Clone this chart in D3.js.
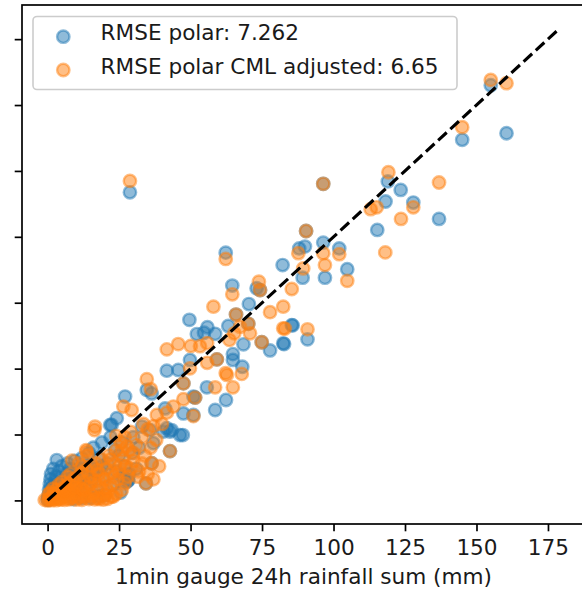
<!DOCTYPE html>
<html>
<head>
<meta charset="utf-8">
<script src="https://cdn.jsdelivr.net/npm/d3@7"></script>
<style>
  html, body { margin: 0; padding: 0; background: #fff; }
  svg { display: block; }
  text { font-family: "DejaVu Sans", sans-serif; }
</style>
</head>
<body>
<svg id="chart" width="582" height="592"></svg>
<script>
// ---- data ----
const seriesNames = ["RMSE polar: 7.262", "RMSE polar CML adjusted: 6.65"];
const xTicks = [0, 25, 50, 75, 100, 125, 150, 175];
const yTicks = [0, 25, 50, 75, 100, 125, 150, 175];
const oneToOne = [0, 179];

// polar (blue): [gauge, radar]
const polarPoints = [
  [155,157.5],[160.5,139.3],[145,136.8],[119,121],[123.5,117.8],[136.9,106.8],[96.4,120.1],[28.8,116.9],
  [118.2,113.4],[115.3,102.6],[127.9,113],[90.4,102.2],[88,95.6],[90,96.3],[96.4,97.8],[97,84.5],
  [102,95.6],[104.8,87.7],[89.2,84.5],[82.2,89.3],[85.4,66.5],[82.4,59.6],[90.9,61.1],[62.3,94],
  [64.6,81.5],[73.1,80.5],[74.3,79.8],[70.4,74.5],[70.2,67],[65.9,70.5],[49.6,68.5],[63.2,66.2],
  [55.9,65.7],[52.2,63.1],[54.7,63.6],[58.6,63.2],[85.7,66.4],[68.5,59.2],[74.9,60],[77.8,56.9],
  [82.7,59.3],[49.8,53.3],[41.7,49.2],[45.7,49.5],[59.2,53.5],[64.8,55.5],[64.8,53.3],[68.1,50.7],
  [47.5,44.4],[62.4,38.1],[55.7,42.9],[51,39.4],[58.6,34.3],[27.1,39.4],[34.7,41.9],[36.4,40.6],
  [24.2,31.2],[41.7,27.4],[43.4,26.7],[46.3,24.8],[47.5,33],[41.1,34.9],[51.6,39],[21.9,28.6],
  [35.8,26.7],[37,21.7],[42.8,26.1],[40.5,26.1],[42.8,18.7],[36.4,14.1],[34.4,6.5],[28.3,7.7],
  [27.7,7.1],[51,32.4],[47.3,24.8],
  [0,0.5],[0.3,2],[0.5,4],[0.8,6],[1,8],[1.2,10],[1.5,3],[2,5],[2,12],[2.5,7],[3,9],[3.2,15.3],
  [3.5,4],[4,11],[4.5,6],[5,13],[5.5,8],[6,3],[6.5,10],[7,14],[7.5,5],[8,12],[8.5,2],[9,9],
  [9.5,15],[10,6],[11,12],[11.5,3],[12,16],[12.5,9],[13,5],[14,13],[14.5,18],[15,1],[15.5,8],
  [16,20],[17,11],[17.5,4],[18,16],[19,22],[19.5,9],[20,2],[21,14],[22,24],[22.4,28.6],[23,6],
  [23.5,19],[24,11],[25,17],[25.5,3],[26,22],[26.5,9],[27,13],[28,7.5],[28.5,10],[29.5,18],
  [30,24],[31,12],[32,20],[33,28],[0.2,0.2],[1,1],[2,1.5],[4,2],[6,6.5],[9,0.5],[12,1],[18,1.5],
  [0.5,1],[1.5,5],[2.5,3],[3,6],[5,4],[7,7],[8,3.5],[10,11],[12,7],[14,9],[16,12],[19,13]
];

// polar CML adjusted (orange): [gauge, radar]
const cmlPoints = [
  [155,159.5],[160.5,158.3],[145,141.6],[119.2,124.5],[136.9,120.6],[96.4,120.1],[28.8,121.2],
  [115.1,111.2],[113,110.5],[127.9,111.2],[123.6,106.8],[118.1,94.1],[90.4,102.2],[87.7,93.8],
  [96.4,93.8],[97,89.3],[102,93.4],[104.8,83.3],[89.4,88],[85.4,80.2],[82.4,73.5],[82.4,65.3],
  [90.9,64.9],[62.3,91.6],[64.6,78.2],[73.9,83],[74.3,79.8],[58,73.5],[77.8,71.4],[65.9,70.5],
  [70.2,67],[67.3,65.9],[65.3,63.4],[70.8,63.4],[83,65.2],[74.9,60],[41.7,57.3],[45.7,59.3],
  [50.1,58.6],[53.3,58.5],[55.8,59.7],[63.6,60.9],[59.2,53.5],[55.8,52.2],[62.3,48.3],[67.9,48],
  [34.7,46],[49.8,50.1],[36.1,42.2],[47.5,44.4],[64.8,42.9],[58.6,42.9],[47.5,38.4],[51.6,39],
  [44,35.6],[41.7,33.3],[26.5,35.6],[29.4,34.3],[37,28.2],[33.5,29],[51,32],[38.2,32.4],
  [16.4,26.7],[16.6,28],[42.8,18.7],[36.4,14.1],[34.4,6.5],[13.5,19.1],[8.5,15.1],[13.7,18.5],
  [27.7,20.6],[22.4,1.4],[62.7,47.6],
  [0,0],[0.5,0.3],[1,0.8],[1.5,1.2],[2,0.5],[2.5,2],[3,1],[3.5,2.8],[4,0.6],[4.5,3.5],[5,2],
  [5.5,4.8],[6,1.2],[6.5,5],[7,3],[7.5,6.5],[8,0.8],[8.5,4],[9,7.8],[9.5,2.5],[10,6],[10.5,9],
  [11,1],[11.5,4.5],[12,10.5],[12.5,7],[13,2],[13.5,11.5],[14,5],[14.5,0.5],[15,9],[15.5,13],
  [16,3],[16.5,7.5],[17,14],[17.5,1],[18,10],[18.5,5],[19,15.5],[19.5,0.3],[20,8],[20.5,12],
  [21,3.5],[21.5,17],[22,6],[22.5,10.5],[23,1.5],[23.5,14],[24,19],[24.5,8],[25,11],[25.5,22],
  [26,4],[26.5,16],[27,24],[27.5,13],[28,9],[28.5,19],[29,26],[30,15],[31,21],[32,11],[33,24],
  [34,17],[35,27],[36,20],[37,8],[38,23],[39,13],[40,29],[13,1.2],[18,0.5],[10,0.3],[6,0.2],
  [3,0.1],[20,2],[1,3],[2,4.5],[0.5,2.5],[4,6],[7,9],[11,14],[3,4],[5,7],[8,10],[14,17],
  [-1,0.2],[1.5,0.1],[4.5,0.3],[7.5,0.4],[9,1.5],[12,0.2],[15.5,1.8],[16.5,0.4],[21,0.6],[24,2.5],
  [2,2.5],[6,3.8],[9.5,5],[12.5,4],[15,6.5],[18,7.5],[20.5,5],[23,9],[25.5,13.5],[27,6.5],
  [29,12],[30,18],[31.5,9],[12,13],[17.5,11.5],[22,15.5],[26,19],[33,14],[35,10],[24,24.5]
];

const seriesColors = ["#1f77b4", "#ff7f0e"];

// ---- drawing ----
(function () {
  const svg = d3.select("#chart");
  const W = 582, H = 592;
  const pLeft = 22, pRight = 585, pTop = 5, pBottom = 524;
  const fontSize = 21.6;
  const textColor = "#1a1a1a";

  const x = d3.scaleLinear().domain([-8.95, 187.95]).range([pLeft, pRight]);
  const y = d3.scaleLinear().domain([-8.95, 187.95]).range([pBottom, pTop]);

  svg.append("rect").attr("width", W).attr("height", H).attr("fill", "#fff");

  const R = 6.2, SW = 2.4;
  const series = [polarPoints, cmlPoints];
  series.forEach((pts, i) => {
    svg.append("g")
      .selectAll("circle")
      .data(pts)
      .join("circle")
      .attr("cx", d => x(d[0]))
      .attr("cy", d => y(d[1]))
      .attr("r", R)
      .attr("fill", seriesColors[i])
      .attr("fill-opacity", 0.5)
      .attr("stroke", seriesColors[i])
      .attr("stroke-opacity", 0.5)
      .attr("stroke-width", SW);
  });

  // 1:1 dashed line
  svg.append("line")
    .attr("x1", x(oneToOne[0])).attr("y1", y(oneToOne[0]))
    .attr("x2", x(oneToOne[1])).attr("y2", y(oneToOne[1]))
    .attr("stroke", "#000")
    .attr("stroke-width", 3.1)
    .attr("stroke-dasharray", "11.6,5");

  // axes
  const xAxis = d3.axisBottom(x).tickValues(xTicks).tickSize(7.3).tickSizeOuter(0).tickPadding(8.8);
  const gx = svg.append("g").attr("transform", `translate(0,${pBottom})`).call(xAxis);
  gx.select(".domain").remove();
  gx.selectAll(".tick line").attr("stroke", "#000").attr("stroke-width", 1.7);
  gx.selectAll(".tick text").attr("fill", textColor).style("font-size", fontSize + "px")
    .style("font-family", "DejaVu Sans, sans-serif");

  const yAxis = d3.axisLeft(y).tickValues(yTicks).tickSize(7.3).tickSizeOuter(0).tickFormat("");
  const gy = svg.append("g").attr("transform", `translate(${pLeft},0)`).call(yAxis);
  gy.select(".domain").remove();
  gy.selectAll(".tick line").attr("stroke", "#000").attr("stroke-width", 1.7);

  // frame (spines)
  svg.append("rect")
    .attr("x", pLeft).attr("y", pTop)
    .attr("width", pRight - pLeft).attr("height", pBottom - pTop)
    .attr("fill", "none").attr("stroke", "#000").attr("stroke-width", 1.7);

  // x label
  svg.append("text")
    .attr("x", (pLeft + pRight) / 2)
    .attr("y", 584)
    .attr("text-anchor", "middle")
    .style("font-size", fontSize + "px")
    .attr("fill", textColor)
    .text("1min gauge 24h rainfall sum (mm)");

  // legend
  const lg = svg.append("g");
  lg.append("rect")
    .attr("x", 33).attr("y", 16.5).attr("width", 424).attr("height", 73).attr("rx", 4)
    .attr("fill", "#fff").attr("fill-opacity", 0.8)
    .attr("stroke", "#cccccc").attr("stroke-width", 1.6);
  const rows = [36.7, 70];
  seriesNames.forEach((name, i) => {
    lg.append("circle")
      .attr("cx", 63.3).attr("cy", rows[i]).attr("r", R)
      .attr("fill", seriesColors[i]).attr("fill-opacity", 0.5)
      .attr("stroke", seriesColors[i]).attr("stroke-opacity", 0.5).attr("stroke-width", SW);
    lg.append("text")
      .attr("x", 100.6)
      .attr("y", rows[i] + 3.6)
      .style("font-size", fontSize + "px")
      .attr("fill", textColor)
      .text(name);
  });
})();
</script>
</body>
</html>
